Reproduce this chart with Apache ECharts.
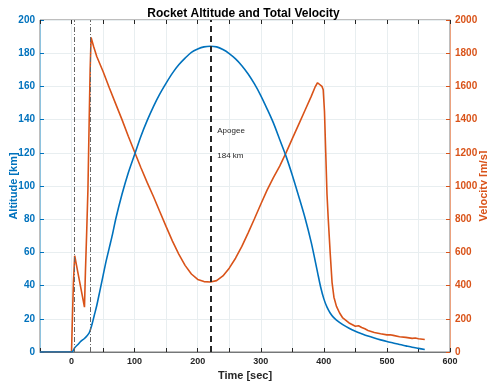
<!DOCTYPE html>
<html>
<head>
<meta charset="utf-8">
<script src="https://cdn.jsdelivr.net/npm/echarts@6/dist/echarts.min.js"></script>
<style>
  html, body { margin: 0; padding: 0; background: #fff; }
  #chart { width: 487px; height: 381px; }
</style>
</head>
<body>
<div id="chart"></div>
<script>
// altitude [km] vs time [sec]
const altTime = [-50, 0, 2, 5, 10, 15, 20, 25, 28, 30, 33, 36, 40, 45, 50, 55, 60, 65, 70, 80, 90, 100,
  110, 120, 130, 140, 150, 160, 170, 180, 190, 200, 210, 220, 230, 240, 250, 260, 270, 280, 290, 300,
  310, 320, 330, 340, 350, 360, 370, 380, 390, 395, 400, 405, 410, 415, 420, 430, 440, 450, 460, 470,
  480, 490, 500, 510, 520, 530, 540, 550, 560]
const altitude = [0, 0, 0.5, 2.5, 4.5, 6.5, 8, 10, 11.5, 13.5, 17.5, 22, 28, 37, 46, 55, 63, 71, 80, 95, 108, 119,
  130, 139.5, 148, 155.5, 162, 168, 173, 177, 180.5, 182.5, 183.8, 184.2, 183.8, 182.2, 179.8, 176.6, 172.5, 167.5, 161.5, 154.5,
  146.5, 138, 128, 118, 106.5, 94, 81, 66, 48, 39, 32, 27, 23.5, 21, 19.2, 16.5, 14.3, 12.5, 11, 9.6,
  8.4, 7.3, 6.3, 5.4, 4.5, 3.7, 2.9, 2.2, 1.5]

// total velocity [m/s] vs time [sec]
const velTime = [-50, 0, 1, 3, 5, 10, 15, 20.5, 22, 24, 26, 28, 29.5, 31, 35, 40, 50, 60, 70, 80, 90, 100,
  110, 120, 130, 140, 150, 160, 170, 180, 190, 200, 210, 220, 230, 240, 250, 260, 270, 280, 290, 300,
  310, 320, 330, 340, 350, 360, 370, 380, 386, 390, 393, 397, 399, 401, 403, 405, 407, 410, 413, 416,
  420, 425, 430, 440, 450, 455, 460, 465, 470, 480, 490, 500, 505, 510, 520, 530, 540, 545, 550, 560]
const velocity = [0, 0, 150, 420, 580, 480, 380, 270, 480, 720, 980, 1400, 1700, 1895, 1840, 1780, 1690, 1590, 1495, 1400, 1300, 1205,
  1110, 1020, 935, 845, 755, 668, 590, 522, 470, 437, 424, 422, 430, 458, 505, 565, 636, 718, 803, 890,
  975, 1050, 1120, 1200, 1285, 1370, 1455, 1540, 1595, 1622, 1620, 1600, 1580, 1450, 1200, 950, 800, 600, 420, 330,
  275, 235, 205, 175, 155, 158, 148, 140, 130, 118, 110, 103, 104, 100, 92, 88, 82, 84, 80, 75]

const events = [5, 30]      // dash-dot event markers
const apogeeTime = 220
const apogeeAlt = 184

const blue = '#0072BD'
const orange = '#D95319'
const font = 'Helvetica, Arial, "Liberation Sans", sans-serif'

const zip = (xs, ys) => xs.map((x, i) => [x, ys[i]])

const chart = echarts.init(document.getElementById('chart'))
chart.setOption({
  animation: false,
  title: {
    text: 'Rocket Altitude and Total Velocity',
    left: 'center',
    top: 3,
    textStyle: { fontFamily: font, fontSize: 12, fontWeight: 'bold', color: '#000' }
  },
  grid: {
    left: 40, right: 37, top: 20, bottom: 29,
    containLabel: false, outerBoundsMode: 'none',
    show: true, borderColor: '#262626', borderWidth: 0.6
  },
  xAxis: [{
    type: 'value', min: -50, max: 600, interval: 50,
    name: 'Time [sec]', nameLocation: 'middle', nameGap: 18, nameMoveOverlap: false,
    nameTextStyle: { fontFamily: font, fontSize: 11, fontWeight: 'bold', color: '#262626' },
    axisLine: { onZero: false, lineStyle: { color: '#262626', width: 0.6 } },
    axisTick: { inside: true, length: 4, lineStyle: { color: '#262626' },
      interval: (i, v) => v % 100 === 0 },
    axisLabel: { fontFamily: font, fontSize: 9, fontWeight: 'bold', color: '#262626', margin: 5,
      formatter: v => (v % 100 === 0 ? v : '') },
    splitLine: { show: true, lineStyle: { color: '#e8eef0', width: 1 },
      interval: (i, v) => v % 100 === 0 }
  }, {
    type: 'value', min: -50, max: 600, interval: 50, position: 'top',
    axisLine: { show: false, onZero: false },
    axisTick: { inside: true, length: 4, lineStyle: { color: '#262626' },
      interval: (i, v) => v % 100 === 0 },
    axisLabel: { show: false }, splitLine: { show: false }
  }],
  yAxis: [{
    type: 'value', min: 0, max: 200, interval: 20, position: 'left',
    name: 'Altitude [km]', nameLocation: 'middle', nameGap: 21, nameRotate: 90, nameMoveOverlap: false,
    nameTextStyle: { fontFamily: font, fontSize: 11, fontWeight: 'bold', color: blue },
    axisLine: { show: true, onZero: false, lineStyle: { color: '#8ec3df', width: 1 } },
    axisTick: { show: true, inside: true, length: 4, lineStyle: { color: blue } },
    axisLabel: { fontFamily: font, fontSize: 10, fontWeight: 'bold', color: blue, margin: 5 },
    splitLine: { show: true, lineStyle: { color: '#e8eef0', width: 1 } }
  }, {
    type: 'value', min: 0, max: 2000, interval: 200, position: 'right',
    name: 'Velocity [m/s]', nameLocation: 'middle', nameGap: 28, nameRotate: 90, nameMoveOverlap: false,
    nameTextStyle: { fontFamily: font, fontSize: 11, fontWeight: 'bold', color: orange },
    axisLine: { show: true, onZero: false, lineStyle: { color: '#eca27f', width: 1 } },
    axisTick: { show: true, inside: true, length: 4, lineStyle: { color: orange } },
    axisLabel: { fontFamily: font, fontSize: 10, fontWeight: 'bold', color: orange, margin: 5,
      formatter: v => String(v) },
    splitLine: { show: false }
  }],
  series: [{
    name: 'Altitude',
    type: 'line',
    yAxisIndex: 0,
    data: zip(altTime, altitude),
    showSymbol: false,
    smooth: 0.3,
    lineStyle: { color: blue, width: 1.6 },
    z: 3,
    markLine: {
      silent: true, symbol: 'none', label: { show: false },
      data: [
        ...events.map(t => ({ xAxis: t, lineStyle: { color: '#666', width: 1, type: [5, 2, 1, 2] } })),
        { xAxis: apogeeTime, lineStyle: { color: '#262626', width: 2, type: [6, 4] } }
      ]
    },
    markPoint: {
      silent: true, symbol: 'circle', symbolSize: 0,
      label: { show: true, position: 'right', distance: 0, fontFamily: font, fontSize: 8, color: '#262626' },
      data: [
        { coord: [apogeeTime + 11, 133], label: { formatter: 'Apogee' } },
        { coord: [apogeeTime + 11, 118], label: { formatter: apogeeAlt + ' km' } }
      ]
    }
  }, {
    name: 'Velocity',
    type: 'line',
    yAxisIndex: 1,
    data: zip(velTime, velocity),
    showSymbol: false,
    lineStyle: { color: orange, width: 1.6 },
    z: 2
  }]
})
</script>
</body>
</html>
